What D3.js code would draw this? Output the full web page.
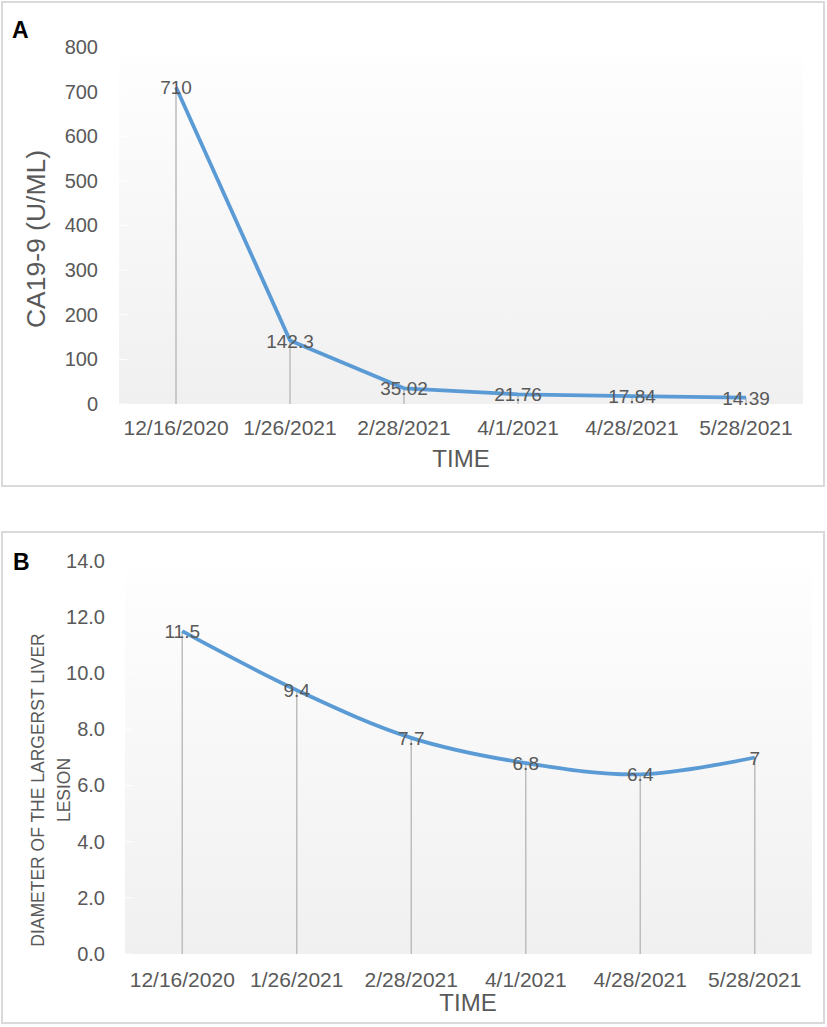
<!DOCTYPE html>
<html>
<head>
<meta charset="utf-8">
<script src="https://cdn.jsdelivr.net/npm/d3@7"></script>
<style>
  body { margin: 0; background: #fff; }
  text { font-family: "Liberation Sans", Arial, sans-serif; }
</style>
</head>
<body>
<svg id="chart"></svg>
<script>
// values
var dates = ["12/16/2020", "1/26/2021", "2/28/2021", "4/1/2021", "4/28/2021", "5/28/2021"];
var ca199 = [710, 142.3, 35.02, 21.76, 17.84, 14.39];
var ca199Labels = ["710", "142.3", "35.02", "21.76", "17.84", "14.39"];
var lesion = [11.5, 9.4, 7.7, 6.8, 6.4, 7];
var lesionLabels = ["11.5", "9.4", "7.7", "6.8", "6.4", "7"];
var caTicks = [0, 100, 200, 300, 400, 500, 600, 700, 800];
var lesionTicks = [0, 2, 4, 6, 8, 10, 12, 14];

var width = 827;
var height = 1027;
var textGray = "#595959";

var svg = d3.select("#chart")
    .attr("width", width)
    .attr("height", height);

// plot background gradient (white at top, light gray at bottom)
var defs = svg.append("defs");
var grad = defs.append("linearGradient")
    .attr("id", "plotFill")
    .attr("x1", 0).attr("y1", 0).attr("x2", 0).attr("y2", 1);
grad.append("stop").attr("offset", "0%").attr("stop-color", "#ffffff");
grad.append("stop").attr("offset", "8%").attr("stop-color", "#fdfdfd");
grad.append("stop").attr("offset", "100%").attr("stop-color", "#f0f0f0");

function drawPanel(cfg) {
    // outer frame
    svg.append("rect")
        .attr("x", cfg.frame[0]).attr("y", cfg.frame[1])
        .attr("width", cfg.frame[2]).attr("height", cfg.frame[3])
        .attr("fill", "none")
        .attr("stroke", "#d9d9d9")
        .attr("stroke-width", 2);

    // panel letter
    svg.append("text")
        .attr("x", cfg.letterPos[0]).attr("y", cfg.letterPos[1])
        .attr("font-weight", "bold")
        .style("font-size", "23px")
        .attr("fill", "#000")
        .text(cfg.letter);

    var x = d3.scaleBand()
        .domain(dates)
        .range(cfg.xRange)
        .padding(0);

    var y = d3.scaleLinear()
        .domain([0, d3.max(cfg.ticks)])
        .range(cfg.yRange);

    var cx = function(d) { return x(d) + x.bandwidth() / 2; };

    // plot area
    svg.append("rect")
        .attr("x", cfg.xRange[0])
        .attr("y", cfg.yRange[1])
        .attr("width", cfg.xRange[1] - cfg.xRange[0])
        .attr("height", cfg.yRange[0] - cfg.yRange[1])
        .attr("fill", "url(#plotFill)");

    // faint gridline stubs at the left edge
    svg.append("g")
        .selectAll("line")
        .data(cfg.ticks)
        .enter().append("line")
        .attr("x1", cfg.xRange[0])
        .attr("x2", cfg.xRange[0] + 8)
        .attr("y1", function(d) { return y(d); })
        .attr("y2", function(d) { return y(d); })
        .attr("stroke", "#ffffff")
        .attr("stroke-width", 1);

    // y axis labels
    svg.append("g")
        .attr("transform", "translate(" + cfg.yLabelX + ",0)")
        .call(d3.axisLeft(y)
            .tickValues(cfg.ticks)
            .tickSize(0)
            .tickPadding(0)
            .tickFormat(cfg.tickFormat))
        .call(function(g) { g.select(".domain").remove(); })
        .selectAll("text")
        .attr("fill", textGray)
        .style("font-size", "20px")
        .style("font-family", "'Liberation Sans', Arial, sans-serif");

    // x axis labels
    svg.append("g")
        .attr("transform", "translate(0," + cfg.xLabelY + ")")
        .call(d3.axisBottom(x).tickSize(0).tickPadding(0))
        .call(function(g) { g.select(".domain").remove(); })
        .selectAll("text")
        .attr("dy", "0.35em")
        .attr("fill", textGray)
        .style("font-size", "21px")
        .style("font-family", "'Liberation Sans', Arial, sans-serif");

    // drop lines
    svg.append("g")
        .selectAll("line")
        .data(cfg.values)
        .enter().append("line")
        .attr("x1", function(d, i) { return cx(dates[i]); })
        .attr("x2", function(d, i) { return cx(dates[i]); })
        .attr("y1", function(d) { return y(d); })
        .attr("y2", y(0))
        .attr("stroke", "#bdbdbd")
        .attr("stroke-width", 1.5);

    // the series line
    var line = d3.line()
        .x(function(d, i) { return cx(dates[i]); })
        .y(function(d) { return y(d); })
        .curve(cfg.curve);

    svg.append("path")
        .datum(cfg.values)
        .attr("d", line)
        .attr("fill", "none")
        .attr("stroke", "#5b9bd5")
        .attr("stroke-width", 3.8)
        .attr("stroke-linejoin", "round");

    // data labels, centred on the points
    svg.append("g")
        .selectAll("text")
        .data(cfg.values)
        .enter().append("text")
        .attr("x", function(d, i) { return cx(dates[i]); })
        .attr("y", function(d) { return y(d) + 2; })
        .attr("text-anchor", "middle")
        .attr("dominant-baseline", "middle")
        .attr("fill", textGray)
        .style("font-size", "19px")
        .text(function(d, i) { return cfg.labels[i]; });

    // x axis title
    svg.append("text")
        .attr("x", cfg.timePos[0])
        .attr("y", cfg.timePos[1])
        .attr("text-anchor", "middle")
        .attr("dominant-baseline", "middle")
        .attr("fill", textGray)
        .style("font-size", "24px")
        .text("TIME");

    // y axis title (one or more lines)
    var yt = svg.append("text")
        .attr("transform", "translate(" + cfg.yTitlePos[0] + "," + cfg.yTitlePos[1] + ") rotate(-90)")
        .attr("text-anchor", "middle")
        .attr("fill", textGray)
        .style("font-size", cfg.yTitleSize);
    cfg.yTitle.forEach(function(t, i) {
        yt.append("tspan")
            .attr("x", 0)
            .attr("y", i * cfg.yTitleLead)
            .attr("dominant-baseline", "middle")
            .text(t);
    });
}

drawPanel({
    letter: "A",
    letterPos: [12, 38],
    frame: [2, 2, 822, 484],
    xRange: [119, 803],
    yRange: [404, 47],
    ticks: caTicks,
    tickFormat: d3.format("d"),
    yLabelX: 98,
    xLabelY: 428,
    values: ca199,
    labels: ca199Labels,
    curve: d3.curveLinear,
    timePos: [461, 461],
    yTitle: ["CA19-9 (U/ML)"],
    yTitlePos: [38, 239],
    yTitleSize: "26.5px",
    yTitleLead: 0
});

drawPanel({
    letter: "B",
    letterPos: [13, 570],
    frame: [2, 532, 822, 491],
    xRange: [125, 812],
    yRange: [954, 561],
    ticks: lesionTicks,
    tickFormat: d3.format(".1f"),
    yLabelX: 105,
    xLabelY: 980,
    values: lesion,
    labels: lesionLabels,
    curve: d3.curveCatmullRom.alpha(0.5),
    timePos: [468, 1005],
    yTitle: ["DIAMETER OF THE LARGERST LIVER", "LESION"],
    yTitlePos: [39, 790],
    yTitleSize: "17.5px",
    yTitleLead: 26
});
</script>
</body>
</html>
